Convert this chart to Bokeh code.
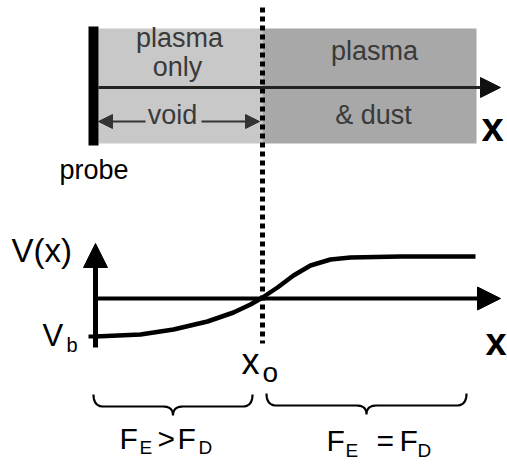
import numpy as np
from bokeh.plotting import figure
from bokeh.models import Range1d, Arrow, NormalHead
from bokeh.core.properties import value
from bokeh.embed import file_html
from bokeh.resources import INLINE

# ---- data (diagram coordinates, y grows downward) ----
curve_x = [95, 140, 173, 207, 233, 250, 262, 277, 293, 310, 330, 350, 400, 475]
curve_v = [336, 334, 329, 321, 312, 304, 297, 287, 275, 265, 259, 257, 256, 256]

region_labels_left = ["plasma", "only"]
region_labels_right = ["plasma", "& dust"]
force_left = ["F", "E", ">", "F", "D"]
force_right = ["F", "E", "=", "F", "D"]

FONT = value("Liberation Sans")
BASE_SHIFT = 0.4  # empirical baseline correction (fraction of font size)

p = figure(width=507, height=466, output_backend="svg", toolbar_location=None,
           x_range=Range1d(0, 507), y_range=Range1d(466, 0), min_border=0)
p.axis.visible = False
p.grid.visible = False
p.outline_line_color = None
p.background_fill_color = "white"
p.border_fill_color = "white"


def txt(xs, ys, texts, size, color="black", align="left", bold=False):
    p.text(x=xs, y=[y - BASE_SHIFT * size for y in ys], text=texts, text_font=FONT,
           text_font_size=f"{size}px", text_align=align, text_baseline="alphabetic",
           text_color=color, text_font_style="bold" if bold else "normal")


# ---- top schematic ----
p.quad(left=[98], right=[262], top=[28], bottom=[143], fill_color="#c8c8c8", line_color=None)
p.quad(left=[262], right=[476], top=[28], bottom=[143], fill_color="#a8a8a8", line_color=None)
p.quad(left=[88], right=[98], top=[26], bottom=[145], fill_color="black", line_color=None)

p.add_layout(Arrow(end=NormalHead(size=20, fill_color="#111111", line_color="#111111", line_width=1),
                   x_start=98, y_start=87, x_end=500, y_end=87,
                   line_width=3, line_color="#222222"))
# void arrows
p.add_layout(Arrow(end=NormalHead(size=14, fill_color="#333333", line_color="#333333", line_width=1),
                   x_start=145, y_start=121, x_end=98, y_end=121,
                   line_width=2, line_color="#333333"))
p.add_layout(Arrow(end=NormalHead(size=14, fill_color="#333333", line_color="#333333", line_width=1),
                   x_start=201, y_start=121, x_end=259, y_end=121,
                   line_width=2, line_color="#333333"))

txt([179, 177], [48, 77], region_labels_left, 27, color="#3a3a3a", align="center")
txt([172], [125], ["void"], 27, color="#3a3a3a", align="center")
txt([374, 373], [61, 125], region_labels_right, 27, color="#3a3a3a", align="center")
txt([481], [142], ["x"], 40, bold=True)
txt([59], [180], ["probe"], 27)

# dotted separator
p.line(x=[262, 262], y=[7, 343], line_width=5, line_dash="5 4", line_color="black")

# ---- lower plot ----
p.add_layout(Arrow(end=NormalHead(size=24, fill_color="black", line_color="black", line_width=1),
                   x_start=95, y_start=347, x_end=95, y_end=243,
                   line_width=5, line_color="black"))
p.add_layout(Arrow(end=NormalHead(size=23, fill_color="black", line_color="black", line_width=1),
                   x_start=95, y_start=298, x_end=500, y_end=298,
                   line_width=4, line_color="black"))
p.line(x=[88, 95], y=[336, 336], line_width=4, line_color="black")
p.line(x=curve_x, y=curve_v, line_width=4.5, line_color="black", line_join="round")

txt([11], [263], ["V(x)"], 33)
txt([42], [347], ["V"], 31)
txt([66], [352], ["b"], 20)
txt([241], [375], ["x"], 36)
txt([262], [383], ["o"], 28)
txt([485], [357], ["x"], 38, bold=True)

# braces
def brace(x0, x1, ytop, ymid, ytip, r=10):
    xm = (x0 + x1) / 2
    t = np.linspace(0, 1, 12)
    def qb(a, c, b):
        return [(1 - t) ** 2 * a[i] + 2 * (1 - t) * t * c[i] + t ** 2 * b[i] for i in range(2)]
    pts = []
    pts.append(qb((x0, ytop), (x0, ymid), (x0 + r, ymid)))
    pts.append(qb((xm - r, ymid), (xm, ymid), (xm, ytip)))
    pts.append(qb((xm, ytip), (xm, ymid), (xm + r, ymid)))
    pts.append(qb((x1 - r, ymid), (x1, ymid), (x1, ytop)))
    xs = np.concatenate([q[0] for q in pts])
    ys = np.concatenate([q[1] for q in pts])
    return xs, ys

bx, by = brace(93, 252, 394, 406, 415)
p.line(bx, by, line_width=2.2, line_color="black")
bx, by = brace(266, 466, 393, 405, 414)
p.line(bx, by, line_width=2.2, line_color="black")

big = 30
small = 19
txt([119, 177], [450, 450], [force_left[0], force_left[3]], big)
txt([139, 198], [455, 455], [force_left[1], force_left[4]], small)
txt([157], [450], [force_left[2]], big)

txt([326, 399], [452, 452], [force_right[0], force_right[3]], big)
txt([345, 417], [458, 458], [force_right[1], force_right[4]], small)
txt([376], [452], [force_right[2]], big)

open("out.html", "w").write(file_html(p, INLINE))
